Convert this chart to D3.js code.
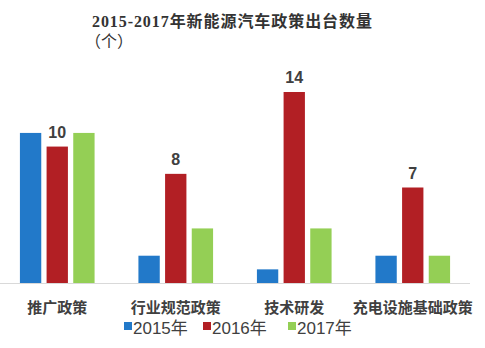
<!DOCTYPE html>
<html>
<head>
<meta charset="utf-8">
<script src="https://cdn.jsdelivr.net/npm/d3@7"></script>
<style>
  body { margin: 0; background: #fff; }
  #chart { width: 485px; height: 348px; }
  text { font-family: "Liberation Sans", "Noto Sans CJK SC", sans-serif; fill: #404040; }
</style>
</head>
<body>
<div id="chart"></div>
<script>
// data
var categories = ["推广政策", "行业规范政策", "技术研发", "充电设施基础政策"];
var years = ["2015年", "2016年", "2017年"];
var values2015 = [11, 2, 1, 2];
var values2016 = [10, 8, 14, 7];
var values2017 = [11, 4, 4, 2];
var colors = ["#2279c9", "#b21f24", "#94cf55"];

var width = 485, height = 348;
var margin = {top: 92, left: -2, right: 15, bottom: 65};

var svg = d3.select("#chart")
    .append("svg")
    .attr("width", width)
    .attr("height", height);

var series = [values2015, values2016, values2017];
var rows = categories.map(function(c, i) {
    return {cat: c, vals: series.map(function(s) { return s[i]; })};
});

var xScale = d3.scaleBand()
    .domain(categories)
    .range([margin.left, width - margin.right + 2])
    .paddingInner(0.37)
    .paddingOuter(0.185);

var xInner = d3.scaleBand()
    .domain(years)
    .range([0, xScale.bandwidth()])
    .paddingInner(0.2);

var yScale = d3.scaleLinear()
    .domain([0, 14])
    .range([height - margin.bottom, margin.top]);

// title
svg.append("text")
    .attr("x", 92)
    .attr("y", 27)
    .attr("textLength", 280)
    .attr("lengthAdjust", "spacing")
    .style("font-family", "'Liberation Serif', 'Noto Sans CJK SC', serif")
    .style("font-size", "16px")
    .style("font-weight", "bold")
    .style("fill", "#333")
    .text("2015-2017年新能源汽车政策出台数量");

svg.append("text")
    .attr("x", 85)
    .attr("y", 47)
    .style("font-family", "'Noto Sans CJK SC', serif")
    .style("font-size", "16px")
    .style("fill", "#333")
    .text("（个）");

// bars
var groups = svg.selectAll("g.group")
    .data(rows)
    .enter()
    .append("g")
    .attr("class", "group")
    .attr("transform", function(d) { return "translate(" + xScale(d.cat) + ",0)"; });

groups.selectAll("rect")
    .data(function(d) { return d.vals.map(function(v, j) { return {year: years[j], v: v, j: j}; }); })
    .enter()
    .append("rect")
        .attr("x", function(d) { return xInner(d.year); })
        .attr("y", function(d) { return yScale(d.v); })
        .attr("width", xInner.bandwidth())
        .attr("height", function(d) { return yScale(0) - yScale(d.v); })
        .attr("fill", function(d) { return colors[d.j]; });

// value labels on 2016 bars
groups.append("text")
    .attr("x", function(d) { return xInner("2016年") + xInner.bandwidth() / 2; })
    .attr("y", function(d) { return yScale(d.vals[1]) - 9; })
    .attr("text-anchor", "middle")
    .style("font-size", "16px")
    .style("font-weight", "bold")
    .text(function(d) { return d.vals[1]; });

// baseline
svg.append("line")
    .attr("x1", 0)
    .attr("x2", 470)
    .attr("y1", yScale(0) + 0.5)
    .attr("y2", yScale(0) + 0.5)
    .attr("stroke", "#d9d9d9");

// category labels
var xAxis = svg.append("g")
    .attr("transform", "translate(0," + yScale(0) + ")")
    .call(d3.axisBottom(xScale).tickSize(0).tickPadding(19));
xAxis.select(".domain").remove();
xAxis.selectAll("text")
    .style("font-family", "'Noto Sans CJK SC', sans-serif")
    .style("font-size", "15px")
    .style("font-weight", "bold")
    .style("fill", "#404040");

// legend
var legendX = [124, 203, 288];
var legend = svg.selectAll("g.legend")
    .data(years)
    .enter()
    .append("g")
    .attr("class", "legend")
    .attr("transform", function(d, i) { return "translate(" + legendX[i] + ",328)"; });

legend.append("rect")
    .attr("x", 0)
    .attr("y", -6)
    .attr("width", 8)
    .attr("height", 8)
    .attr("fill", function(d, i) { return colors[i]; });

legend.append("text")
    .attr("x", 9)
    .attr("y", 6)
    .style("font-size", "17px")
    .text(function(d) { return d; });
</script>
</body>
</html>
